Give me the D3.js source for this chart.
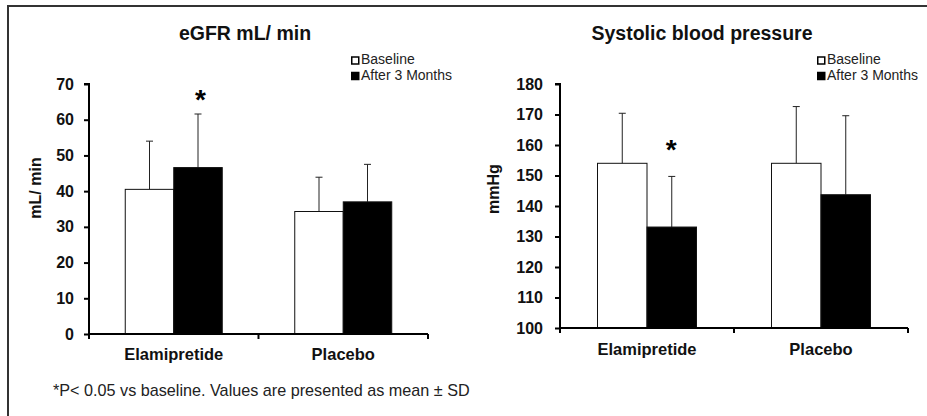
<!DOCTYPE html>
<html>
<head>
<meta charset="utf-8">
<script src="https://cdn.jsdelivr.net/npm/d3@7"></script>
<style>
  body { margin: 0; background: #fff; }
  svg { font-family: "Liberation Sans", Arial, sans-serif; }
</style>
</head>
<body>
<div id="chart"></div>
<script>
// data
var groups = ["Elamipretide", "Placebo"];
var seriesNames = ["Baseline", "After 3 Months"];

var egfrMean = [[40.5, 46.6], [34.3, 37.0]];
var egfrSD = [[13.5, 15.0], [9.6, 10.5]];
var egfrTicks = [0, 10, 20, 30, 40, 50, 60, 70];

var sbpMean = [[154, 133.1], [154, 143.7]];
var sbpSD = [[16.4, 16.6], [18.6, 25.9]];
var sbpTicks = [100, 110, 120, 130, 140, 150, 160, 170, 180];

var stars = [[false, true], [false, false]];

var W = 927, H = 416;
var FONT = "Liberation Sans, Arial, sans-serif";

var svg = d3.select("#chart").append("svg")
  .attr("width", W)
  .attr("height", H);

// outer frame
svg.append("rect")
  .attr("x", 8).attr("y", 6)
  .attr("width", W).attr("height", H)
  .attr("fill", "none")
  .attr("stroke", "#333")
  .attr("stroke-width", 2);

function panel(opt) {
  var x0 = d3.scaleBand().domain(groups).range([opt.left, opt.right]);
  var y = d3.scaleLinear().domain(opt.domain).range([opt.bottom, opt.top]);
  var x1 = d3.scaleBand().domain(seriesNames).range([0, opt.barW * 2]);

  var g = svg.append("g");

  // title
  g.append("text")
    .attr("x", opt.titleX).attr("y", 40)
    .attr("text-anchor", "middle")
    .attr("font-size", 19.5).attr("font-weight", "bold")
    .attr("fill", "#111")
    .text(opt.title);

  // bars
  groups.forEach(function (grp, gi) {
    var cx = x0(grp) + x0.bandwidth() / 2;
    var start = cx - opt.barW;
    seriesNames.forEach(function (s, si) {
      var v = opt.mean[gi][si];
      var sd = opt.sd[gi][si];
      var bx = start + x1(s);
      var mid = bx + x1.bandwidth() / 2;
      // error bar (upper only)
      g.append("line")
        .attr("x1", mid).attr("x2", mid)
        .attr("y1", y(v)).attr("y2", y(v + sd))
        .attr("stroke", "#222").attr("stroke-width", 1);
      g.append("line")
        .attr("x1", mid - 3.5).attr("x2", mid + 3.5)
        .attr("y1", y(v + sd)).attr("y2", y(v + sd))
        .attr("stroke", "#222").attr("stroke-width", 1);
      g.append("rect")
        .attr("x", bx).attr("y", y(v))
        .attr("width", x1.bandwidth())
        .attr("height", y(opt.domain[0]) - y(v))
        .attr("fill", si === 0 ? "#fff" : "#000")
        .attr("stroke", "#111").attr("stroke-width", 1);
      if (stars[gi][si]) {
        g.append("text")
          .attr("x", mid + opt.starDx).attr("y", y(v + sd) - opt.starGap)
          .attr("text-anchor", "middle")
          .attr("font-size", 28).attr("font-weight", "bold")
          .text("*");
      }
    });
  });

  // y axis
  var gy = g.append("g")
    .attr("transform", "translate(" + opt.left + ",0)")
    .call(d3.axisLeft(y).tickValues(opt.ticks).tickSize(5).tickPadding(opt.tickPad).tickFormat(d3.format("d")));
  gy.select(".domain").attr("stroke-width", 2).attr("d", "M-5," + y(opt.domain[1]) + "H0V" + y(opt.domain[0]));
  gy.selectAll(".tick line").attr("stroke-width", 2);
  gy.selectAll(".tick text")
    .attr("font-size", 16).attr("font-weight", "bold")
    .attr("font-family", FONT)
    .attr("fill", "#111");

  // x axis
  var gx = g.append("g")
    .attr("transform", "translate(0," + opt.bottom + ")")
    .call(d3.axisBottom(x0).tickSize(0).tickPadding(opt.catPad));
  gx.select(".domain").attr("stroke-width", 2).attr("d", "M" + opt.left + ",0H" + opt.right);
  gx.selectAll(".tick text")
    .attr("font-size", 16.5).attr("font-weight", "bold")
    .attr("font-family", FONT)
    .attr("fill", "#111");
  // boundary ticks between categories
  var edges = [opt.left, x0(groups[1]), opt.right];
  gx.selectAll(".edge").data(edges).enter().append("line")
    .attr("x1", function (d) { return d; })
    .attr("x2", function (d) { return d; })
    .attr("y1", 0).attr("y2", 5)
    .attr("stroke", "#000").attr("stroke-width", 2);

  // y label
  g.append("text")
    .attr("transform", "translate(" + opt.ylabX + "," + opt.ylabY + ") rotate(-90)")
    .attr("text-anchor", "middle")
    .attr("font-size", 16).attr("font-weight", "bold")
    .attr("fill", "#111")
    .text(opt.ylabel);

  // legend
  var lg = g.append("g").attr("transform", "translate(" + opt.legX + ",64)");
  seriesNames.forEach(function (s, i) {
    lg.append("rect")
      .attr("x", 0.75).attr("y", i * 15.5 - 7)
      .attr("width", 7).attr("height", 7)
      .attr("fill", i === 0 ? "#fff" : "#000")
      .attr("stroke", "#000").attr("stroke-width", 1.5);
    lg.append("text")
      .attr("x", 10).attr("y", i * 15.5)
      .attr("font-size", 14).attr("fill", "#222")
      .text(s);
  });
}

panel({
  title: "eGFR mL/ min", titleX: 245,
  left: 89, right: 428, top: 84, bottom: 334,
  domain: [0, 70], ticks: egfrTicks,
  mean: egfrMean, sd: egfrSD, barW: 48.5,
  ylabel: "mL/ min", ylabX: 41, ylabY: 188,
  legX: 351, starGap: 5, starDx: 2.5, tickPad: 10, catPad: 14
});

panel({
  title: "Systolic blood pressure", titleX: 702,
  left: 560, right: 908, top: 84, bottom: 328,
  domain: [100, 180], ticks: sbpTicks,
  mean: sbpMean, sd: sbpSD, barW: 49.5,
  ylabel: "mmHg", ylabX: 499, ylabY: 189,
  legX: 817, starGap: 17, starDx: -0.5, tickPad: 12, catPad: 15
});

// footnote
svg.append("text")
  .attr("x", 53).attr("y", 396)
  .attr("font-size", 16.2).attr("fill", "#222")
  .text("*P< 0.05 vs baseline. Values are presented as mean \u00b1 SD");
</script>
</body>
</html>
